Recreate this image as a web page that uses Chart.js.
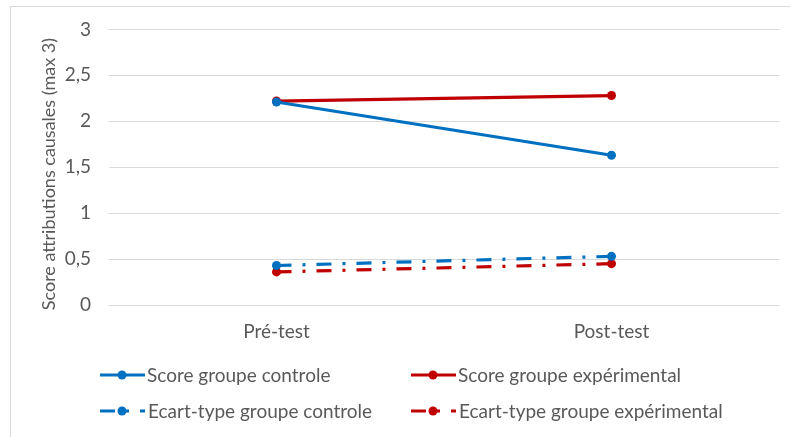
<!DOCTYPE html>
<html>
<head>
	<meta charset="utf-8">
	<title>Score attributions causales</title>
	<script src="https://cdn.jsdelivr.net/npm/chart.js"></script>
	<style>
		html, body { margin: 0; padding: 0; background: #fff; overflow: hidden; }
		.frame { position: absolute; left: 10px; top: 6px; width: 800px; height: 460px; border: 1px solid #d9d9d9; }
		.chart-box { position: absolute; left: 0; top: 0; width: 790px; height: 437px; }
	</style>
</head>
<body>
	<div class="frame"></div>
	<div class="chart-box"><canvas id="chart" width="790" height="437"></canvas></div>

	<script>
	// data
	var categories = ['Pré-test', 'Post-test'];
	var scoreControle = [2.21, 1.63];
	var scoreExperimental = [2.22, 2.28];
	var ecartControle = [0.43, 0.53];
	var ecartExperimental = [0.36, 0.45];
	var seriesNames = ['Score groupe controle', 'Score groupe expérimental', 'Ecart-type groupe controle', 'Ecart-type groupe expérimental'];

	var blue = '#0070c0';
	var red = '#c00000';
	var dashDot = [15, 11, 3, 11];
	var fontFamily = 'Lato, "Open Sans", sans-serif';
	var textColor = '#595959';

	function series(name, data, color, dash) {
		return {
			label: name,
			data: data,
			borderColor: color,
			backgroundColor: color,
			borderWidth: 3.2,
			borderDash: dash,
			borderCapStyle: 'butt',
			pointRadius: 4.5,
			pointHoverRadius: 4.5,
			pointBorderWidth: 0,
			tension: 0
		};
	}

	// legend drawn as a 2x2 grid like the original
	var gridLegend = {
		id: 'gridLegend',
		afterDraw: function (chart) {
			var ctx = chart.ctx;
			var cols = [100, 411];
			var rows = [375, 411];
			chart.data.datasets.forEach(function (ds, i) {
				var x = cols[i % 2];
				var y = rows[Math.floor(i / 2)];
				var dashed = ds.borderDash.length > 0;
				ctx.save();
				ctx.strokeStyle = ds.borderColor;
				ctx.lineWidth = 3.2;
				ctx.lineCap = 'butt';
				ctx.setLineDash(ds.borderDash);
				ctx.beginPath();
				ctx.moveTo(x, y);
				ctx.lineTo(x + 45, y);
				ctx.stroke();
				ctx.setLineDash([]);
				ctx.fillStyle = ds.borderColor;
				ctx.beginPath();
				ctx.arc(x + 22, y, 4.5, 0, Math.PI * 2);
				ctx.fill();
				ctx.fillStyle = textColor;
				ctx.font = '19px ' + fontFamily;
				ctx.textBaseline = 'middle';
				ctx.textAlign = 'left';
				ctx.fillText(ds.label, x + (dashed ? 48 : 47), y + 1);
				ctx.restore();
			});
		}
	};

	new Chart('chart', {
		type: 'line',
		data: {
			labels: categories,
			datasets: [
				series(seriesNames[0], scoreControle, blue, []),
				series(seriesNames[1], scoreExperimental, red, []),
				series(seriesNames[2], ecartControle, blue, dashDot),
				series(seriesNames[3], ecartExperimental, red, dashDot)
			]
		},
		options: {
			responsive: false,
			animation: false,
			events: [],
			layout: { padding: { left: 10, top: 28, right: 11, bottom: 0 } },
			plugins: {
				legend: { display: false },
				tooltip: { enabled: false }
			},
			scales: {
				x: {
					offset: true,
					grid: { display: false, drawTicks: false },
					border: { display: false },
					ticks: { color: textColor, font: { family: fontFamily, size: 19 }, padding: 15 },
					afterFit: function (axis) { axis.height = 132; }
				},
				y: {
					min: 0,
					max: 3,
					grid: { color: '#d9d9d9', lineWidth: 1, drawTicks: false },
					border: { display: false },
					ticks: {
						stepSize: 0.5,
						color: textColor,
						font: { family: fontFamily, size: 19 },
						padding: 18,
						callback: function (v) { return String(v).replace('.', ','); }
					},
					title: {
						display: true,
						text: 'Score attributions causales (max 3)   ',
						color: textColor,
						font: { family: fontFamily, size: 18 },
						padding: { top: 28, bottom: 0 }
					},
					afterFit: function (axis) { axis.width = 99; }
				}
			}
		},
		plugins: [gridLegend]
	});
	</script>
</body>
</html>
